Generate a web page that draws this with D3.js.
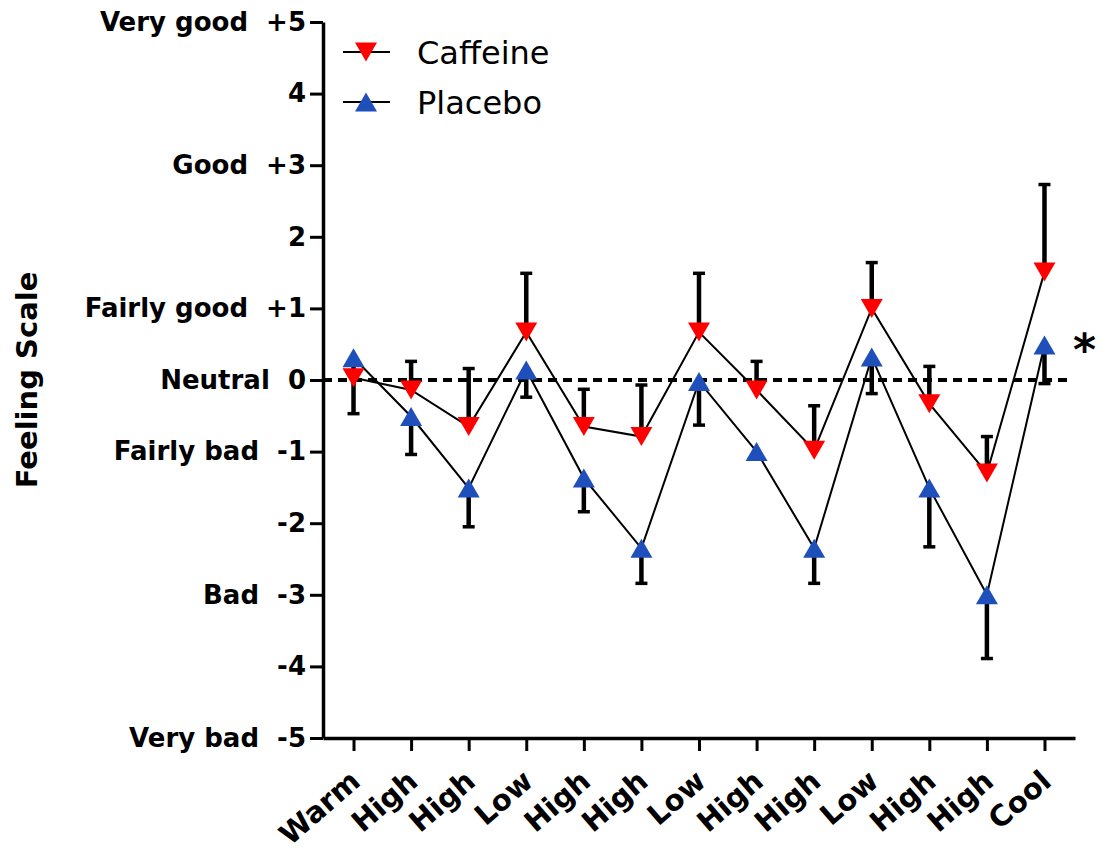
<!DOCTYPE html>
<html>
<head>
  <meta charset="utf-8">
  <title>Feeling Scale</title>
  <style>
    body { margin: 0; background: #fff; }
    svg { font-family: "DejaVu Sans", sans-serif; }
    .axis path, .axis line { stroke: #000; }
    .axis text { fill: #000; font-weight: bold; }
  </style>
  <script src="https://d3js.org/d3.v7.min.js"></script>
</head>
<body>
<script>
"use strict";

// data
var categories = ["Warm", "High", "High", "Low", "High", "High", "Low",
                  "High", "High", "Low", "High", "High", "Cool"];
var caffeine   = [0.03, -0.14, -0.65, 0.67, -0.65, -0.79, 0.67, -0.14, -0.98, 1.00, -0.33, -1.30, 1.51];
var caffeineSD = [0.10, 0.40, 0.81, 0.82, 0.52, 0.72, 0.82, 0.40, 0.62, 0.64, 0.52, 0.51, 1.22];
var placebo    = [0.31, -0.51, -1.51, 0.14, -1.37, -2.35, -0.02, -1.00, -2.35, 0.32, -1.51, -3.00, 0.49];
var placeboSD  = [0.78, 0.53, 0.54, 0.38, 0.47, 0.49, 0.61, 0.10, 0.49, 0.51, 0.82, 0.89, 0.54];

var yTickValues = [-5, -4, -3, -2, -1, 0, 1, 2, 3, 4, 5];
var yTickNums   = ["-5", "-4", "-3", "-2", "-1", "0", "+1", "2", "+3", "4", "+5"];
var yTickNames  = ["Very bad", "", "Bad", "", "Fairly bad", "Neutral", "Fairly good", "", "Good", "", "Very good"];

var series = [
  {name: "Caffeine", values: caffeine, sd: caffeineSD, dir: 1, color: "#ff0000", down: true},
  {name: "Placebo", values: placebo, sd: placeboSD, dir: -1, color: "#1f4fbb", down: false}
];

var svg = d3.select("body").append("svg")
    .attr("width", 1106)
    .attr("height", 856);

var x = d3.scalePoint()
    .domain(d3.range(categories.length))
    .range([323, 1075])
    .padding(0.53);

var y = d3.scaleLinear()
    .domain([-5, 5])
    .range([738, 22]);

// y axis
var gy = svg.append("g")
    .attr("class", "axis")
    .attr("transform", "translate(323,0)")
    .call(d3.axisLeft(y)
        .tickValues(yTickValues)
        .tickSize(13)
        .tickSizeOuter(0)
        .tickPadding(4)
        .tickFormat(function(d, i) {
          return yTickNames[i] ? yTickNames[i] + "\u00a0\u00a0" + yTickNums[i] : yTickNums[i];
        }));
gy.attr("font-family", null).attr("font-size", 26);
gy.select(".domain").attr("stroke-width", 3.5);
gy.selectAll(".tick line").attr("stroke-width", 3);

// x axis
var gx = svg.append("g")
    .attr("class", "axis")
    .attr("transform", "translate(0,738)")
    .call(d3.axisBottom(x)
        .tickSize(13)
        .tickSizeOuter(0)
        .tickFormat(function(i) { return categories[i]; }));
gx.attr("font-family", null).attr("font-size", 29);
gx.select(".domain").attr("stroke-width", 3.5);
gx.selectAll(".tick line").attr("stroke-width", 3);
gx.selectAll(".tick text")
    .attr("x", 0)
    .attr("y", 0)
    .attr("dy", null)
    .attr("text-anchor", "end")
    .attr("transform", "translate(8,46) rotate(-41)");

// y axis title
svg.append("text")
    .attr("transform", "translate(37," + y(0) + ") rotate(-90)")
    .attr("text-anchor", "middle")
    .attr("font-size", 29)
    .attr("font-weight", "bold")
    .text("Feeling Scale");

// neutral reference line
svg.append("line")
    .attr("x1", x.range()[0])
    .attr("x2", x.range()[1] - 4)
    .attr("y1", y(0))
    .attr("y2", y(0))
    .attr("stroke", "#000")
    .attr("stroke-width", 4)
    .attr("stroke-dasharray", "9,6");

var line = d3.line()
    .x(function(d, i) { return x(i); })
    .y(function(d) { return y(d); });

function triangle(down) {
  var w = 11, h = 9.5;
  return down ? "M" + (-w) + "," + (-h) + "L" + w + "," + (-h) + "L0," + h + "Z"
              : "M" + (-w) + "," + h + "L" + w + "," + h + "L0," + (-h) + "Z";
}

// connecting lines
series.forEach(function(s) {
  svg.append("path")
      .datum(s.values)
      .attr("fill", "none")
      .attr("stroke", "#000")
      .attr("stroke-width", 2)
      .attr("d", line);
});

// error bars (caffeine up, placebo down)
series.forEach(function(s) {
  var g = svg.append("g").attr("stroke", "#000");
  s.values.forEach(function(v, i) {
    var end = v + s.dir * s.sd[i];
    g.append("line")
        .attr("x1", x(i)).attr("x2", x(i))
        .attr("y1", y(v)).attr("y2", y(end))
        .attr("stroke-width", 4.5);
    g.append("line")
        .attr("x1", x(i) - 6).attr("x2", x(i) + 6)
        .attr("y1", y(end)).attr("y2", y(end))
        .attr("stroke-width", 3.5);
  });
});

// markers
series.forEach(function(s) {
  svg.append("g").selectAll("path")
    .data(s.values)
    .enter().append("path")
      .attr("d", triangle(s.down))
      .attr("fill", s.color)
      .attr("transform", function(d, i) { return "translate(" + x(i) + "," + y(d) + ")"; });
});

// significance mark
svg.append("text")
    .attr("x", x(categories.length - 1) + 40)
    .attr("y", y(placebo[placebo.length - 1]) + 20)
    .attr("text-anchor", "middle")
    .attr("font-size", 44)
    .attr("font-weight", "bold")
    .text("*");

// legend
var legend = svg.append("g");
series.forEach(function(s, i) {
  var ly = 52 + i * 50;
  legend.append("line")
      .attr("x1", 343).attr("x2", 390)
      .attr("y1", ly).attr("y2", ly)
      .attr("stroke", "#000")
      .attr("stroke-width", 2);
  legend.append("path")
      .attr("d", triangle(s.down))
      .attr("fill", s.color)
      .attr("transform", "translate(366," + ly + ")");
  legend.append("text")
      .attr("x", 417)
      .attr("y", ly + 12)
      .attr("font-size", 32)
      .text(s.name);
});
</script>
</body>
</html>
